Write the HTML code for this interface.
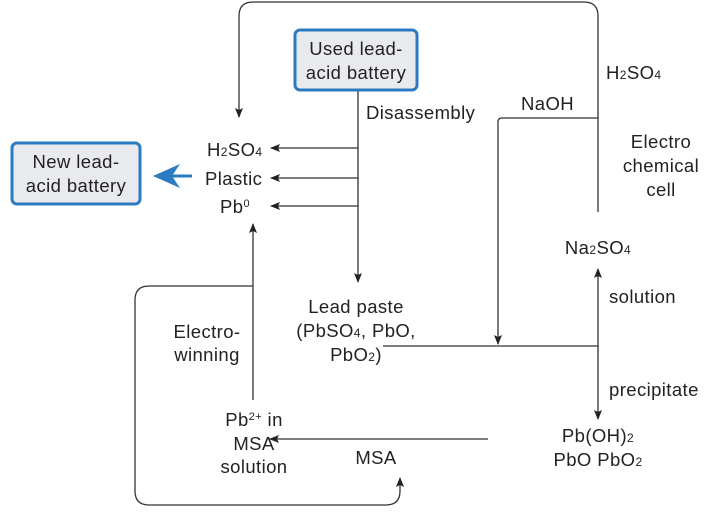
<!DOCTYPE html>
<html><head><style>
body{margin:0;background:#fff;}
svg text{font-family:"Liberation Sans",Arial,sans-serif;font-size:18.5px;letter-spacing:0.4px;fill:#222;}
</style></head><body>
<svg width="709" height="509" viewBox="0 0 709 509" xmlns="http://www.w3.org/2000/svg">
<defs><marker id="a" markerWidth="10" markerHeight="8" refX="9" refY="4" orient="auto" markerUnits="userSpaceOnUse"><path d="M0,0 L10,4 L0,8 L2,4z" fill="#222"/></marker></defs>
<g stroke="#333" stroke-width="1.3" fill="none">
<path d="M598,212 V16 Q598,2 584,2 H253 Q239,2 239,16 V117" marker-end="url(#a)"/>
<path d="M358,90 V282" marker-end="url(#a)"/>
<path d="M358,148 H271" marker-end="url(#a)"/>
<path d="M358,178 H271" marker-end="url(#a)"/>
<path d="M358,206 H271" marker-end="url(#a)"/>
<path d="M253,400 V224" marker-end="url(#a)"/>
<path d="M253,286 H149 Q135,286 135,300 V491 Q135,505 149,505 H386 Q400,505 400,491 V478" marker-end="url(#a)"/>
<path d="M598,118 H502 Q498,118 498,122 V344" marker-end="url(#a)"/>
<path d="M383,346 H598"/>
<path d="M598,346 V269" marker-end="url(#a)"/>
<path d="M598,346 V419" marker-end="url(#a)"/>
<path d="M488,439 H270" marker-end="url(#a)"/>
</g>
<rect x="295" y="30" width="122" height="60" rx="5" fill="#e8eaee" stroke="#2a7bbf" stroke-width="3"/>
<text x="356" y="55" text-anchor="middle">Used lead-</text>
<text x="356" y="79" text-anchor="middle">acid battery</text>
<rect x="12" y="143" width="128" height="61" rx="5" fill="#e8eaee" stroke="#2a7bbf" stroke-width="3"/>
<text x="76" y="168" text-anchor="middle">New lead-</text>
<text x="76" y="192" text-anchor="middle">acid battery</text>
<path d="M192,176 H170" stroke="#2a7bbf" stroke-width="3"/>
<path d="M153,176 L180,164 L172,176 L180,188Z" fill="#2a7bbf"/>
<text x="207" y="156">H<tspan font-size="12">2</tspan>SO<tspan font-size="12">4</tspan></text>
<text x="205" y="185">Plastic</text>
<text x="220" y="213">Pb<tspan font-size="11" dy="-6">0</tspan></text>
<text x="366" y="119">Disassembly</text>
<text x="521" y="110">NaOH</text>
<text x="606" y="79">H<tspan font-size="12">2</tspan>SO<tspan font-size="12">4</tspan></text>
<text x="661" y="148" text-anchor="middle">Electro</text>
<text x="661" y="172" text-anchor="middle">chemical</text>
<text x="661" y="196" text-anchor="middle">cell</text>
<text x="598" y="254" text-anchor="middle">Na<tspan font-size="12">2</tspan>SO<tspan font-size="12">4</tspan></text>
<text x="609" y="303">solution</text>
<text x="609" y="396">precipitate</text>
<text x="356" y="313" text-anchor="middle">Lead paste</text>
<text x="356" y="337" text-anchor="middle">(PbSO<tspan font-size="12">4</tspan>, PbO,</text>
<text x="356" y="361" text-anchor="middle">PbO<tspan font-size="12">2</tspan>)</text>
<text x="207" y="338" text-anchor="middle">Electro-</text>
<text x="207" y="361" text-anchor="middle">winning</text>
<text x="254" y="426" text-anchor="middle">Pb<tspan font-size="11" dy="-6">2+</tspan><tspan dy="6"> in</tspan></text>
<text x="254" y="450" text-anchor="middle">MSA</text>
<text x="254" y="473" text-anchor="middle">solution</text>
<text x="376" y="464" text-anchor="middle">MSA</text>
<text x="598" y="442" text-anchor="middle">Pb(OH)<tspan font-size="12">2</tspan></text>
<text x="598" y="466" text-anchor="middle">PbO PbO<tspan font-size="12">2</tspan></text>
</svg>
</body></html>
